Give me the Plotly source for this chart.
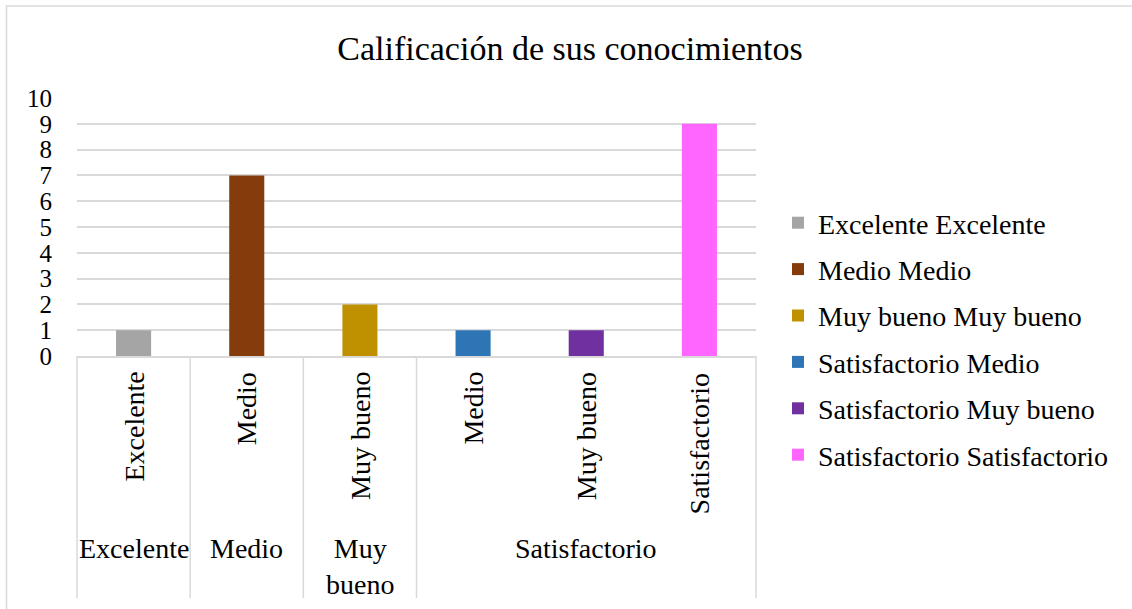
import plotly.graph_objects as go

# ---- data ----
outer_cats = ["Excelente", "Medio", "Muy bueno", "Satisfactorio", "Satisfactorio", "Satisfactorio"]
inner_cats = ["Excelente", "Medio", "Muy bueno", "Medio", "Muy bueno", "Satisfactorio"]
values = [1, 7, 2, 1, 1, 9]
colors = ["#a5a5a5", "#843c0c", "#bf9000", "#2e75b6", "#7030a0", "#ff66ff"]
outer_display = {"Muy bueno": "Muy<br>bueno"}
title_text = "Calificación de sus conocimientos"
y_ticks = list(range(0, 11))

FONT = "Liberation Serif, Times New Roman, serif"
GRID = "#d9d9d9"

W, H = 1132, 609
L, R, T, B = 77, 376, 98, 253
PW, PH = W - L - R, H - T - B
N = len(values)


def px_y(py):
    return ((H - B) - py) / PH


def px_x(px):
    return (px - L) / PW


fig = go.Figure()
for i, (o, n, v, c) in enumerate(zip(outer_cats, inner_cats, values, colors)):
    fig.add_trace(go.Bar(
        x=[i], y=[v], width=0.31, name=f"{o} {n}",
        marker=dict(color=c, line=dict(width=0)),
        legendgroup=f"g{i}", hoverinfo="name+y",
    ))

shapes = []
# outer chart border (top + left visible)
shapes.append(dict(type="rect", xref="paper", yref="paper",
                   x0=px_x(6.5), x1=px_x(W + 20), y0=px_y(H + 20), y1=px_y(6),
                   line=dict(color=GRID, width=1.5), fillcolor="rgba(0,0,0,0)", layer="below"))

# table vertical dividers at outer group boundaries
bounds = [0]
for i in range(1, N):
    if outer_cats[i] != outer_cats[i - 1]:
        bounds.append(i)
bounds.append(N)
for b in bounds:
    xp = b / N
    shapes.append(dict(type="line", xref="paper", yref="paper",
                       x0=xp, x1=xp, y0=0, y1=px_y(598),
                       line=dict(color=GRID, width=1.5)))

annotations = []
# inner (rotated) labels
for i, n in enumerate(inner_cats):
    annotations.append(dict(xref="x", yref="paper", x=i, y=px_y(370),
                            text=n, textangle=-90, showarrow=False,
                            xanchor="center", yanchor="top",
                            font=dict(family=FONT, size=28, color="black")))
# outer labels
for k in range(len(bounds) - 1):
    a, b = bounds[k], bounds[k + 1]
    name = outer_cats[a]
    annotations.append(dict(xref="x", yref="paper", x=(a + b - 1) / 2, y=px_y(531),
                            text=outer_display.get(name, name), showarrow=False,
                            xanchor="center", yanchor="top",
                            font=dict(family=FONT, size=28, color="black")))

fig.update_layout(
    width=W, height=H,
    margin=dict(l=L, r=R, t=T, b=B, autoexpand=False),
    paper_bgcolor="white", plot_bgcolor="white",
    font=dict(family=FONT, size=28, color="black"),
    title=dict(text=title_text, x=570 / W, xanchor="center",
               y=1 - 48 / H, yanchor="middle", yref="container",
               font=dict(family=FONT, size=34, color="black")),
    barmode="overlay",
    showlegend=True,
    legend=dict(x=px_x(778), xanchor="left", yref="container",
                y=1 - 339 / H, yanchor="middle", maxheight=1,
                font=dict(family=FONT, size=28, color="black"),
                tracegroupgap=7, bgcolor="rgba(0,0,0,0)"),
    xaxis=dict(range=[-0.5, N - 0.5], showticklabels=False, showgrid=False,
               zeroline=False, showline=True, linecolor=GRID, linewidth=1.5,
               ticks="", fixedrange=True, automargin=False),
    yaxis=dict(range=[0, 10], tickvals=y_ticks, showgrid=True, gridcolor=GRID,
               gridwidth=1.5, zeroline=False, showline=False, ticks="",
               ticklabelstandoff=24, tickfont=dict(family=FONT, size=25, color="black"),
               fixedrange=True, automargin=False),
    shapes=shapes,
    annotations=annotations,
)

fig.write_html("out.html",
               config={"displayModeBar": False},
               post_script="document.body.style.margin='0';document.body.style.overflow='hidden';")
